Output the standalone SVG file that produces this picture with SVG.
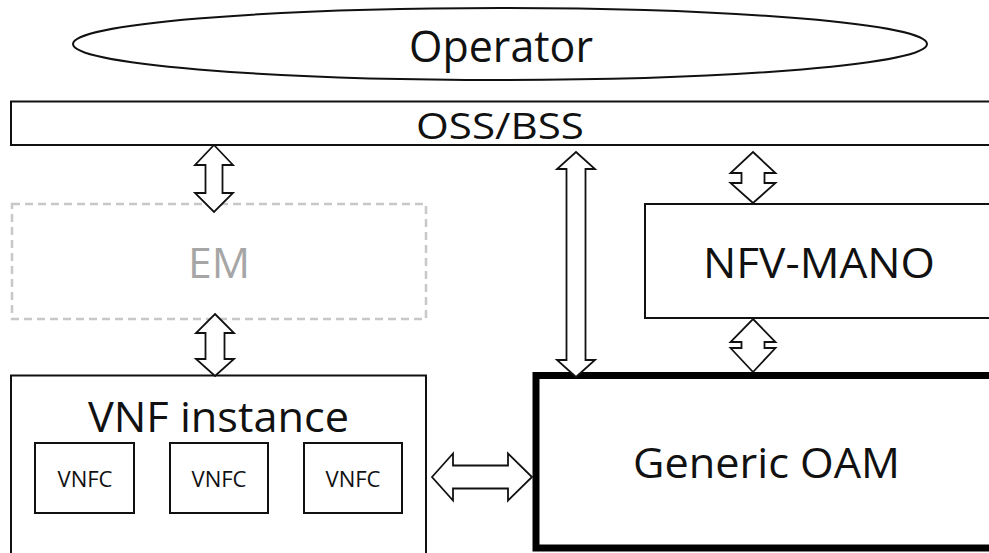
<svg xmlns="http://www.w3.org/2000/svg" width="989" height="553" viewBox="0 0 989 553">
<style>
.box{fill:#fff;stroke:#111;stroke-width:2}
.thick{fill:#fff;stroke:#000;stroke-width:7}
.dash{fill:#fff;stroke:#c8c8c8;stroke-width:2.5;stroke-dasharray:8 5}
.arr{fill:#fff;stroke:#111;stroke-width:1.8;stroke-linejoin:miter}
text{font-family:"Open Sans","Liberation Sans",sans-serif;fill:#111;text-anchor:middle}
.big{font-size:42px}
.small{font-size:21px}
</style>
<rect width="989" height="553" fill="#fff"/>
<g id="operator">
<ellipse cx="500" cy="44" rx="427" ry="36" class="box"/>
<text x="501" y="62" font-size="43" textLength="184" lengthAdjust="spacingAndGlyphs">Operator</text>
</g>
<g id="oss-bss">
<rect x="11" y="101.5" width="1000" height="43.5" class="box"/>
<text x="500" y="139" font-size="36" textLength="168" lengthAdjust="spacingAndGlyphs">OSS/BSS</text>
</g>
<g id="em">
<rect x="12" y="204" width="414" height="115" class="dash"/>
<text x="219" y="278" class="big" style="fill:#a6a6a6" textLength="62" lengthAdjust="spacingAndGlyphs">EM</text>
</g>
<g id="nfv-mano">
<rect x="645" y="204" width="360" height="114" class="box"/>
<text x="819" y="278" class="big" textLength="232" lengthAdjust="spacingAndGlyphs">NFV-MANO</text>
</g>
<g id="vnf-instance">
<rect x="11" y="375.5" width="415" height="200" class="box"/>
<text x="218.5" y="432" class="big" textLength="261" lengthAdjust="spacingAndGlyphs">VNF instance</text>
</g>
<g id="vnfc-1">
<rect x="35" y="443" width="99" height="70" class="box"/>
<text x="85" y="487" class="small" textLength="55" lengthAdjust="spacingAndGlyphs">VNFC</text>
</g>
<g id="vnfc-2">
<rect x="170" y="443" width="98" height="70" class="box"/>
<text x="219" y="487" class="small" textLength="55" lengthAdjust="spacingAndGlyphs">VNFC</text>
</g>
<g id="vnfc-3">
<rect x="304" y="443" width="98" height="70" class="box"/>
<text x="353" y="487" class="small" textLength="55" lengthAdjust="spacingAndGlyphs">VNFC</text>
</g>
<g id="generic-oam">
<rect x="536" y="375.5" width="470" height="172.5" class="thick"/>
<text x="766.5" y="478" class="big" textLength="267" lengthAdjust="spacingAndGlyphs">Generic OAM</text>
</g>
<g id="connectors">
<polygon class="arr" points="214,145 233,165 222.5,165 222.5,193 233,193 214,212 195,193 205.5,193 205.5,165 195,165"/>
<polygon class="arr" points="215,314 234,333 224.5,333 224.5,359 234,359 215,376 196,359 205.5,359 205.5,333 196,333"/>
<polygon class="arr" points="576,152 595,169 585.5,169 585.5,360 595,360 576,377 557,360 566.5,360 566.5,169 557,169"/>
<polygon class="arr" points="753,152 775.5,173 764.5,173 764.5,183 775.5,183 753,203 730.5,183 741.5,183 741.5,173 730.5,173"/>
<polygon class="arr" points="753,319 775.5,342 764.5,342 764.5,348 775.5,348 753,372 730.5,348 741.5,348 741.5,342 730.5,342"/>
<polygon class="arr" points="432,477 453,453.5 453,465.5 508,465.5 508,453.5 532,477 508,500.5 508,488.5 453,488.5 453,500.5"/>
</g>
</svg>
